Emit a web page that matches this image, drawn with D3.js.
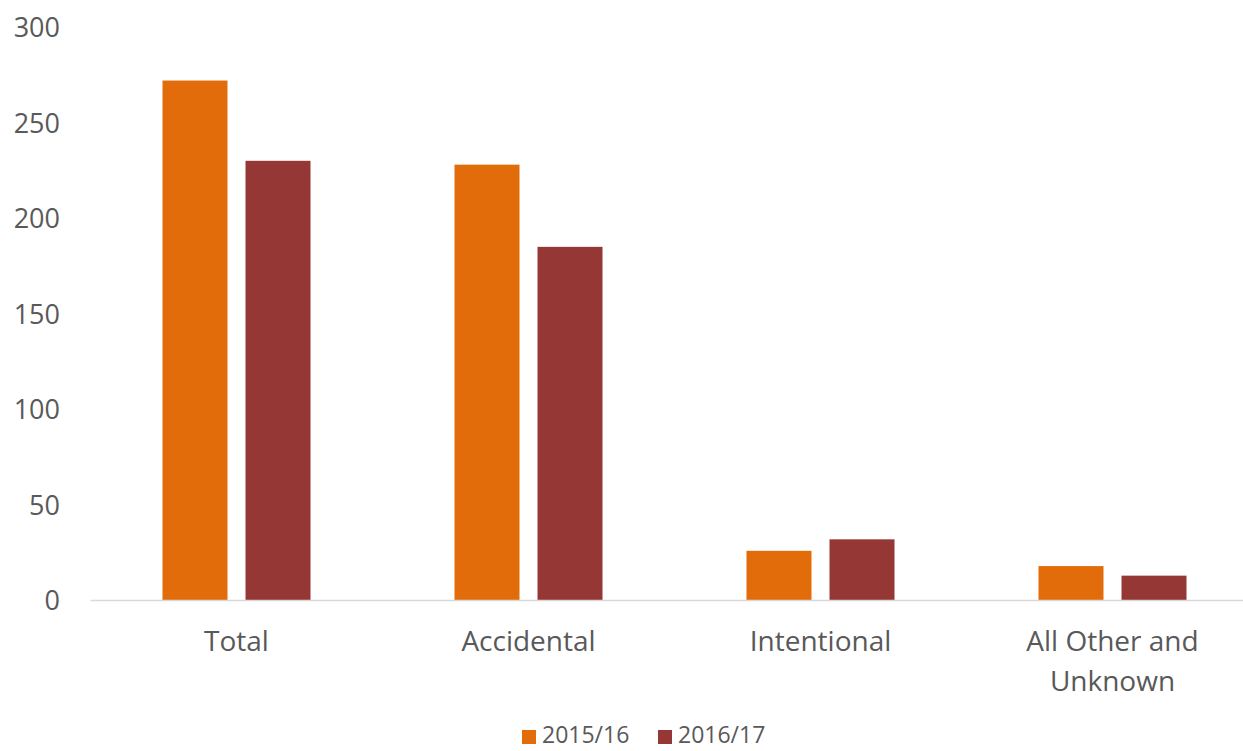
<!DOCTYPE html>
<html>
<head>
<meta charset="utf-8">
<script src="https://cdn.jsdelivr.net/npm/d3@7"></script>
<style>
  body { margin: 0; background: #fff; }
  svg { display: block; }
  text { font-family: "Open Sans", sans-serif; fill: #595959; }
</style>
</head>
<body>
<svg id="chart" width="1243" height="751"></svg>
<script>
const categories = ["Total", "Accidental", "Intentional", "All Other and Unknown"];
const categoryLines = [["Total"], ["Accidental"], ["Intentional"], ["All Other and", "Unknown"]];
const seriesNames = ["2015/16", "2016/17"];
const values2015 = [272, 228, 26, 18];
const values2016 = [230, 185, 32, 13];
const yTicks = [0, 50, 100, 150, 200, 250, 300];
const colors = ["#E36C0A", "#953735"];

const svg = d3.select("#chart");
const W = 1243, H = 751;

const x = d3.scaleBand().domain(categories).range([90.5, 1258.5]).paddingInner(0).paddingOuter(0);
const y = d3.scaleLinear().domain([0, 300]).range([600.5, 27]);
const xInner = d3.scaleBand().domain(seriesNames).range([0, 148]).paddingInner(0.217);

const groupOffset = (x.bandwidth() - 148) / 2;

// y axis labels
const yAxis = d3.axisLeft(y).tickValues(yTicks).tickSize(0).tickPadding(0);
const gy = svg.append("g").attr("transform", "translate(60,0)").call(yAxis);
gy.select(".domain").remove();
gy.selectAll("text").style("font-size", "27px").attr("fill", "#595959").attr("dy", "0.35em");

// bars
const data = categories.map((c, i) => ({ cat: c, vals: [values2015[i], values2016[i]] }));
const groups = svg.append("g").selectAll("g").data(data).join("g")
  .attr("transform", d => `translate(${x(d.cat) + groupOffset},0)`);
groups.selectAll("rect").data(d => d.vals.map((v, j) => ({ v, s: seriesNames[j], j })))
  .join("rect")
  .attr("x", d => xInner(d.s))
  .attr("width", xInner.bandwidth())
  .attr("y", d => y(d.v))
  .attr("height", d => y(0) - y(d.v))
  .attr("fill", d => colors[d.j]);

// x axis line
svg.append("line").attr("x1", 90.5).attr("x2", W).attr("y1", y(0)).attr("y2", y(0))
  .attr("stroke", "#d9d9d9").attr("stroke-width", 1.5);

// x labels
const xl = svg.append("g").selectAll("text").data(categories).join("text")
  .attr("text-anchor", "middle")
  .attr("x", d => x(d) + x.bandwidth() / 2)
  .attr("y", 651)
  .style("font-size", "28px");
xl.selectAll("tspan").data((d, i) => categoryLines[i]).join("tspan")
  .attr("x", function() { return this.parentNode.getAttribute("x"); })
  .attr("dy", (d, i) => i === 0 ? 0 : 40)
  .text(d => d);

// legend
const legendItems = [{ name: seriesNames[0], x: 522 }, { name: seriesNames[1], x: 658 }];
const lg = svg.append("g").selectAll("g").data(legendItems).join("g")
  .attr("transform", d => `translate(${d.x},730)`);
lg.append("rect").attr("width", 14).attr("height", 14).attr("fill", (d, i) => colors[i]);
lg.append("text").attr("x", 20).attr("y", 13).style("font-size", "23px").text(d => d.name);
</script>
</body>
</html>
